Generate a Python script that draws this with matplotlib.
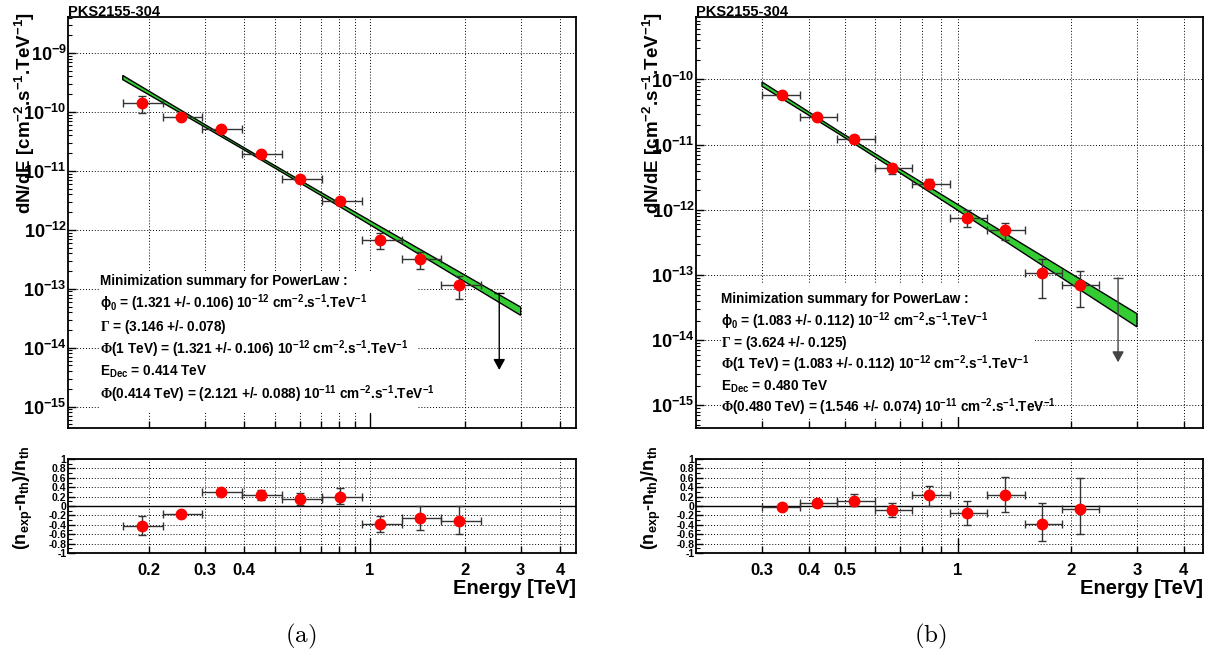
import matplotlib
matplotlib.use('Agg')
import matplotlib.pyplot as plt
import numpy as np
from matplotlib.ticker import FixedLocator, FixedFormatter, LogLocator, NullFormatter, MultipleLocator
from matplotlib.patches import Rectangle

plt.rcParams['font.family'] = ['Liberation Sans', 'DejaVu Sans']
plt.rcParams['font.weight'] = 'bold'
plt.rcParams['mathtext.fontset'] = 'custom'
plt.rcParams['mathtext.rm'] = 'Liberation Sans:bold'
plt.rcParams['mathtext.it'] = 'Liberation Sans:bold'
plt.rcParams['mathtext.bf'] = 'Liberation Sans:bold'
plt.rcParams['mathtext.sf'] = 'Liberation Sans:bold'
plt.rcParams['mathtext.cal'] = 'Liberation Serif'

# ---------------- panel (a) data ----------------
a_edges = [0.165, 0.221, 0.294, 0.394, 0.527, 0.705, 0.943, 1.263, 1.678, 2.245]
a_e = [0.1895, 0.2523, 0.3369, 0.4519, 0.6018, 0.8036, 1.0756, 1.439, 1.917]
a_flux = [1.42e-10, 8.3e-11, 5.2e-11, 1.97e-11, 7.3e-12, 3.1e-12, 6.6e-13, 3.18e-13, 1.15e-13]
a_flux_lo = [9.7e-11, 7.95e-11, 5.05e-11, 1.81e-11, 6.5e-12, 2.68e-12, 4.75e-13, 2.18e-13, 6.8e-14]
a_flux_hi = [1.88e-10, 8.65e-11, 5.35e-11, 2.13e-11, 8.1e-12, 3.52e-12, 8.9e-13, 4.24e-13, 1.66e-13]
a_res = [-0.42, -0.17, 0.29, 0.24, 0.15, 0.20, -0.38, -0.25, -0.32]
a_res_lo = [0.20, 0.03, 0.04, 0.11, 0.13, 0.16, 0.17, 0.25, 0.28]
a_res_hi = [0.21, 0.03, 0.04, 0.11, 0.13, 0.18, 0.17, 0.25, 0.32]
a_ul_e = 2.566
a_ul_top = 8.4e-14
a_ul_tip = 4.2e-15
a_band_e = [0.165, 0.3, 0.414, 0.7, 1.0, 1.5, 2.0, 3.0]
a_band_lo = [3.53e-10, 5.56e-11, 2.035e-11, 3.84e-12, 1.22e-12, 3.31e-13, 1.31e-13, 3.55e-14]
a_band_hi = [4.16e-10, 6.13e-11, 2.21e-11, 4.31e-12, 1.43e-12, 4.12e-13, 1.70e-13, 4.89e-14]
a_stats = [
    'Minimization summary for PowerLaw :',
    r'$\phi_{0}$ = (1.321 +/- 0.106) 10$^{-12}$ cm$^{-2}$.s$^{-1}$.TeV$^{-1}$',
    r'$\mathcal{\Gamma}$ = (3.146 +/- 0.078)',
    r'$\mathcal{\Phi}$(1 TeV) = (1.321 +/- 0.106) 10$^{-12}$ cm$^{-2}$.s$^{-1}$.TeV$^{-1}$',
    r'E$_{\mathrm{Dec}}$ = 0.414 TeV',
    r'$\mathcal{\Phi}$(0.414 TeV) = (2.121 +/- 0.088) 10$^{-11}$ cm$^{-2}$.s$^{-1}$.TeV$^{-1}$',
]

# ---------------- panel (b) data ----------------
b_edges = [0.3, 0.378, 0.476, 0.599, 0.754, 0.949, 1.194, 1.504, 1.893, 2.383]
b_e = [0.3394, 0.42, 0.528, 0.6655, 0.8384, 1.057, 1.332, 1.678, 2.115]
b_flux = [5.69e-11, 2.68e-11, 1.205e-11, 4.33e-12, 2.53e-12, 7.62e-13, 4.82e-13, 1.07e-13, 7.0e-14]
b_flux_lo = [5.52e-11, 2.55e-11, 1.07e-11, 3.6e-12, 2.1e-12, 5.36e-13, 3.46e-13, 4.43e-14, 3.19e-14]
b_flux_hi = [5.86e-11, 2.81e-11, 1.34e-11, 5.06e-12, 2.96e-12, 1.0e-12, 6.38e-13, 1.79e-13, 1.16e-13]
b_res = [-0.03, 0.07, 0.11, -0.085, 0.23, -0.156, 0.23, -0.38, -0.057]
b_res_lo = [0.03, 0.05, 0.12, 0.155, 0.22, 0.254, 0.36, 0.36, 0.53]
b_res_hi = [0.03, 0.05, 0.14, 0.155, 0.20, 0.256, 0.39, 0.44, 0.65]
b_ul_e = 2.671
b_ul_top = 9.05e-14
b_ul_tip = 4.58e-15
b_band_e = [0.3, 0.48, 0.7, 1.0, 1.5, 2.0, 3.0]
b_band_lo = [7.87e-11, 1.474e-11, 3.68e-12, 9.76e-13, 2.14e-13, 7.29e-14, 1.60e-14]
b_band_hi = [9.16e-11, 1.62e-11, 4.21e-12, 1.20e-12, 2.89e-13, 1.055e-13, 2.55e-14]
b_stats = [
    'Minimization summary for PowerLaw :',
    r'$\phi_{0}$ = (1.083 +/- 0.112) 10$^{-12}$ cm$^{-2}$.s$^{-1}$.TeV$^{-1}$',
    r'$\mathcal{\Gamma}$ = (3.624 +/- 0.125)',
    r'$\mathcal{\Phi}$(1 TeV) = (1.083 +/- 0.112) 10$^{-12}$ cm$^{-2}$.s$^{-1}$.TeV$^{-1}$',
    r'E$_{\mathrm{Dec}}$ = 0.480 TeV',
    r'$\mathcal{\Phi}$(0.480 TeV) = (1.546 +/- 0.074) 10$^{-11}$ cm$^{-2}$.s$^{-1}$.TeV$^{-1}$',
]

source = 'PKS2155-304'
ylabel_main = r'dN/dE [cm$^{-2}$.s$^{-1}$.TeV$^{-1}$]'
ylabel_res = r'(n$_{\mathrm{exp}}$-n$_{\mathrm{th}}$)/n$_{\mathrm{th}}$'
xlabel = 'Energy [TeV]'

res_ticks = [-1, -0.8, -0.6, -0.4, -0.2, 0, 0.2, 0.4, 0.6, 0.8, 1]
res_ticklabels = ['-1', '-0.8', '-0.6', '-0.4', '-0.2', '0', '0.2', '0.4', '0.6', '0.8', '1']

W, H = 1215, 655
fig = plt.figure(figsize=(W / 100, H / 100), dpi=100)

GRID = dict(color='black', linestyle=(0, (1, 2)), linewidth=0.7)


def fx(px):
    return px / W


def fy(py):
    return 1 - py / H


def setup_x(ax, minor_pos, minor_lab, labels):
    ax.set_xscale('log')
    ax.xaxis.set_major_locator(FixedLocator([1]))
    ax.xaxis.set_minor_locator(FixedLocator(minor_pos))
    if labels:
        ax.xaxis.set_major_formatter(FixedFormatter(['1']))
        ax.xaxis.set_minor_formatter(FixedFormatter(minor_lab))
    else:
        ax.xaxis.set_major_formatter(NullFormatter())
        ax.xaxis.set_minor_formatter(NullFormatter())
    ax.tick_params(axis='x', which='major', direction='in', length=11, width=1,
                   labelsize=12, pad=7, top=False)
    ax.tick_params(axis='x', which='minor', direction='in', length=5, width=1,
                   labelsize=12, pad=7, top=False)
    ax.grid(True, which='both', axis='x', **GRID)


def panel(left, right, xlim, ylim, minor_pos, minor_lab, edges, e, flux, flo, fhi,
          res, rlo, rhi, ul_e, ul_top, ul_tip, band_e, band_lo, band_hi,
          stats, box, text_x, text_y, ul_color):
    ax = fig.add_axes([fx(left), fy(428), fx(right - left), (428 - 17) / H])
    axr = fig.add_axes([fx(left), fy(553), fx(right - left), (553 - 459) / H])

    xerr = [[e[i] - edges[i] for i in range(len(e))],
            [edges[i + 1] - e[i] for i in range(len(e))]]

    # ---- main spectrum ----
    setup_x(ax, minor_pos, minor_lab, False)
    ax.set_xlim(xlim)
    ax.set_yscale('log')
    ax.set_ylim(ylim)
    ax.yaxis.set_major_locator(LogLocator(base=10, numticks=20))
    ax.yaxis.set_minor_locator(LogLocator(base=10, subs=np.arange(2, 10), numticks=20))
    ax.yaxis.set_minor_formatter(NullFormatter())
    ax.tick_params(axis='y', which='major', direction='in', length=6, width=1,
                   labelsize=13, pad=1, right=False)
    ax.tick_params(axis='y', which='minor', direction='in', length=3, width=0.8, right=False)
    ax.grid(True, which='major', axis='y', **GRID)
    ax.set_axisbelow(True)

    ax.add_patch(Rectangle((box[0], box[1]), box[2] - box[0], box[3] - box[1],
                           transform=ax.transAxes, facecolor='white', edgecolor='none',
                           zorder=1))

    bx = list(band_e) + list(band_e)[::-1]
    by = list(band_hi) + list(band_lo)[::-1]
    ax.fill(bx, by, facecolor='#33cc33', edgecolor='black', linewidth=1, zorder=2)

    yerr = [[flux[i] - flo[i] for i in range(len(flux))],
            [fhi[i] - flux[i] for i in range(len(flux))]]
    ax.errorbar(e, flux, xerr=xerr, yerr=yerr, fmt='o', color='red', ms=7.5,
                ecolor='#333333', elinewidth=1, capsize=3, capthick=1, zorder=4)

    ax.plot([ul_e], [ul_top], marker='_', ms=7, mew=1, color=ul_color, zorder=4)
    ax.annotate('', xy=(ul_e, ul_tip), xytext=(ul_e, ul_top),
                arrowprops=dict(arrowstyle='-|>,head_length=0.4,head_width=0.22',
                                mutation_scale=16, color=ul_color, lw=1,
                                shrinkA=0, shrinkB=0), zorder=4)

    for i, line in enumerate(stats):
        ax.text(text_x, text_y[i], line, transform=ax.transAxes, fontsize=9.8,
                ha='left', va='center', zorder=5)

    for s in ax.spines.values():
        s.set_linewidth(1.3)

    # ---- residuals ----
    setup_x(axr, minor_pos, minor_lab, True)
    axr.set_xlim(xlim)
    axr.set_ylim(-1, 1)
    axr.yaxis.set_major_locator(FixedLocator(res_ticks))
    axr.yaxis.set_major_formatter(FixedFormatter(res_ticklabels))
    axr.yaxis.set_minor_locator(MultipleLocator(0.1))
    axr.tick_params(axis='y', which='major', direction='in', length=5, width=1,
                    labelsize=7.5, pad=1, right=False)
    axr.tick_params(axis='y', which='minor', direction='in', length=3, width=0.8, right=False)
    axr.grid(True, which='major', axis='y', **GRID)
    axr.set_axisbelow(True)
    axr.axhline(0, color='black', linewidth=1, zorder=2)
    axr.errorbar(e, res, xerr=xerr, yerr=[rlo, rhi], fmt='o', color='red', ms=7.5,
                 ecolor='#333333', elinewidth=1, capsize=3, capthick=1, zorder=4)
    for s in axr.spines.values():
        s.set_linewidth(1.3)

    # ---- labels ----
    fig.text(fx(left), fy(16), source, fontsize=10.5, ha='left', va='baseline')
    fig.text(fx(left - 43), fy(12), ylabel_main, rotation=90, fontsize=13.5,
             ha='center', va='top')
    fig.text(fx(left - 45), fy(446), ylabel_res, rotation=90, fontsize=13,
             ha='center', va='top')
    fig.text(fx(right), fy(593.5), xlabel, fontsize=14.5, ha='right', va='baseline')
    return ax, axr


panel(68, 576, (0.1107, 4.49), (4.35e-16, 4.08e-9),
      [0.2, 0.3, 0.4, 0.5, 0.6, 0.7, 0.8, 0.9, 2, 3, 4],
      ['0.2', '0.3', '0.4', '', '', '', '', '', '2', '3', '4'],
      a_edges, a_e, a_flux, a_flux_lo, a_flux_hi, a_res, a_res_lo, a_res_hi,
      a_ul_e, a_ul_top, a_ul_tip, a_band_e, a_band_lo, a_band_hi,
      a_stats, (0.063, 0.041, 0.687, 0.380), 0.063,
      [0.358, 0.304, 0.246, 0.192, 0.136, 0.083], 'black')

panel(696, 1203, (0.2, 4.5), (4.49e-16, 9.1e-10),
      [0.3, 0.4, 0.5, 0.6, 0.7, 0.8, 0.9, 2, 3, 4],
      ['0.3', '0.4', '0.5', '', '', '', '', '2', '3', '4'],
      b_edges, b_e, b_flux, b_flux_lo, b_flux_hi, b_res, b_res_lo, b_res_hi,
      b_ul_e, b_ul_top, b_ul_tip, b_band_e, b_band_lo, b_band_hi,
      b_stats, (0.049, 0.027, 0.669, 0.350), 0.049,
      [0.314, 0.260, 0.207, 0.156, 0.100, 0.051], '#444444')

fig.text(fx(301), fy(636), r'$\mathrm{(a)}$', math_fontfamily='cm', fontsize=18,
         ha='center', va='center')
fig.text(fx(930), fy(636), r'$\mathrm{(b)}$', math_fontfamily='cm', fontsize=18,
         ha='center', va='center')

fig.savefig('out.png', dpi=100)
